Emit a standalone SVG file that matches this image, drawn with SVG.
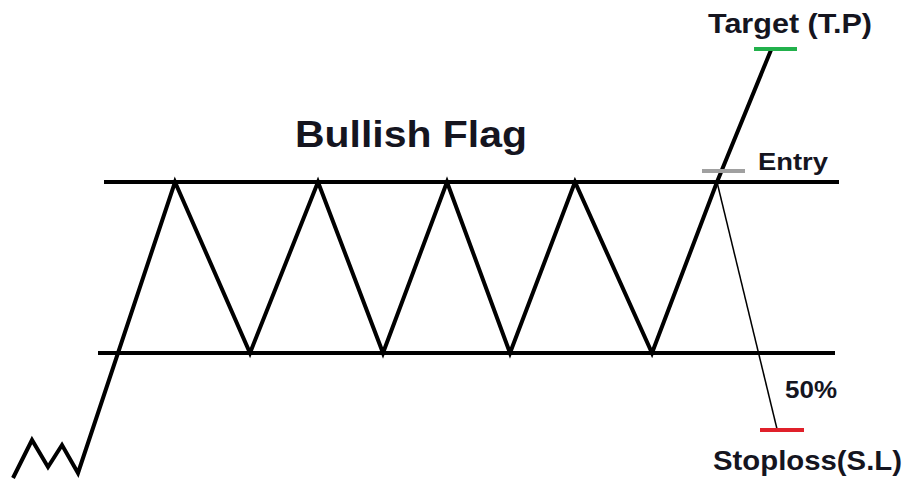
<svg xmlns="http://www.w3.org/2000/svg" width="909" height="485" viewBox="0 0 909 485">
<style>
.t{font-family:"Liberation Sans",Arial,sans-serif;font-weight:bold;fill:#15151f}
.k{stroke:#000;stroke-width:4;fill:none;stroke-linejoin:miter;stroke-linecap:butt}
</style>
<rect width="909" height="485" fill="#fff"/>
<g id="connectors">
<line class="k" x1="104" y1="182" x2="839" y2="182"/>
<line class="k" x1="98" y1="353" x2="835" y2="353"/>
<polyline class="k" points="13,478 32,440 48,467 62,445 78,473 175,182 250,353 318,182 383,353 447,182 510,353 575,182 652,353 717,182 771,50"/>
<line x1="717" y1="182" x2="777" y2="429" stroke="#000" stroke-width="1.5"/>
</g>
<g id="levels">
<line x1="702" y1="171" x2="745" y2="171" stroke="#a0a0a0" stroke-width="4"/>
<line x1="754" y1="49" x2="797" y2="49" stroke="#22b14c" stroke-width="4"/>
<line x1="760" y1="430" x2="804" y2="430" stroke="#e0202a" stroke-width="4"/>
</g>
<g id="labels">
<text class="t" x="295" y="147" font-size="37" textLength="232" lengthAdjust="spacingAndGlyphs">Bullish Flag</text>
<text class="t" x="708" y="33" font-size="28" textLength="164" lengthAdjust="spacingAndGlyphs">Target (T.P)</text>
<text class="t" x="758" y="170" font-size="24" textLength="70" lengthAdjust="spacingAndGlyphs">Entry</text>
<text class="t" x="785" y="398" font-size="24" textLength="52" lengthAdjust="spacingAndGlyphs">50%</text>
<text class="t" x="713" y="470" font-size="27" textLength="189" lengthAdjust="spacingAndGlyphs">Stoploss(S.L)</text>
</g>
</svg>
